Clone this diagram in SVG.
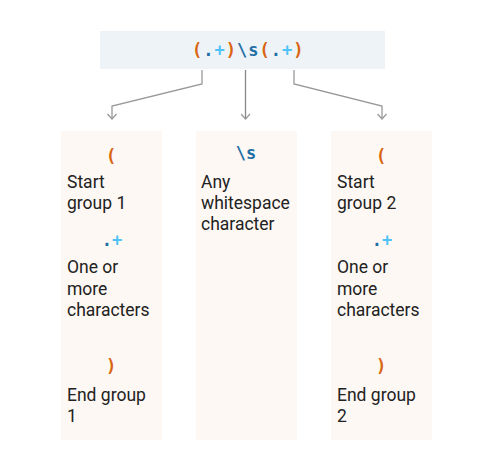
<svg xmlns="http://www.w3.org/2000/svg" width="491" height="472" viewBox="0 0 491 472">
<style>
.col{fill:#fdf8f4}
.t{font-family:Roboto,"Liberation Sans",sans-serif;font-size:17.5px;fill:#222}
.c{font-family:"DejaVu Sans Mono","Liberation Mono",monospace;font-weight:bold;font-size:17px}
.o{fill:#d9650f}
.b{fill:#1f6fa5}
.l{fill:#4fc3f7}
.ln{fill:none;stroke:#999;stroke-width:1.3}
</style>
<defs>
<marker id="ah" viewBox="0 0 10 10" refX="9" refY="5" markerWidth="10" markerHeight="10" markerUnits="userSpaceOnUse" orient="auto">
<path d="M4,0.5 L9,5 L4,9.5" fill="none" stroke="#999" stroke-width="1.3"/>
</marker>
</defs>
<rect width="491" height="472" fill="#fff"/>
<g id="regex">
<rect x="100" y="31" width="285" height="38" fill="#eef3f8"/>
<text class="c" x="192" y="56" letter-spacing="1"><tspan class="o">(</tspan><tspan class="b">.</tspan><tspan class="l">+</tspan><tspan class="o">)</tspan><tspan class="b">\s</tspan><tspan class="o">(</tspan><tspan class="b">.</tspan><tspan class="l">+</tspan><tspan class="o">)</tspan></text>
</g>
<g id="connectors">
<path class="ln" d="M202,70 V84 L112,106 V119" marker-end="url(#ah)"/>
<path class="ln" d="M245.5,70 V119" marker-end="url(#ah)" style="stroke:#888"/>
<path class="ln" d="M294,70 V84 L382,106 V119" marker-end="url(#ah)"/>
</g>
<g id="group1">
<rect class="col" x="61" y="131" width="101" height="309"/>
<text class="c o" x="111" y="162" text-anchor="middle">(</text>
<text class="t" x="67" y="188">Start</text>
<text class="t" x="67" y="209">group 1</text>
<text class="c" x="112" y="246" text-anchor="middle"><tspan class="b">.</tspan><tspan class="l">+</tspan></text>
<text class="t" x="67" y="273">One or</text>
<text class="t" x="67" y="295">more</text>
<text class="t" x="67" y="316">characters</text>
<text class="c o" x="111" y="372" text-anchor="middle">)</text>
<text class="t" x="67" y="401">End group</text>
<text class="t" x="67" y="422">1</text>
</g>
<g id="whitespace">
<rect class="col" x="196" y="131" width="101" height="309"/>
<text class="c b" x="246" y="159" text-anchor="middle">\s</text>
<text class="t" x="201" y="188">Any</text>
<text class="t" x="201" y="209">whitespace</text>
<text class="t" x="201" y="230">character</text>
</g>
<g id="group2">
<rect class="col" x="331" y="131" width="101" height="309"/>
<text class="c o" x="381" y="162" text-anchor="middle">(</text>
<text class="t" x="337" y="188">Start</text>
<text class="t" x="337" y="209">group 2</text>
<text class="c" x="382" y="246" text-anchor="middle"><tspan class="b">.</tspan><tspan class="l">+</tspan></text>
<text class="t" x="337" y="273">One or</text>
<text class="t" x="337" y="295">more</text>
<text class="t" x="337" y="316">characters</text>
<text class="c o" x="381" y="372" text-anchor="middle">)</text>
<text class="t" x="337" y="401">End group</text>
<text class="t" x="337" y="422">2</text>
</g>
</svg>
